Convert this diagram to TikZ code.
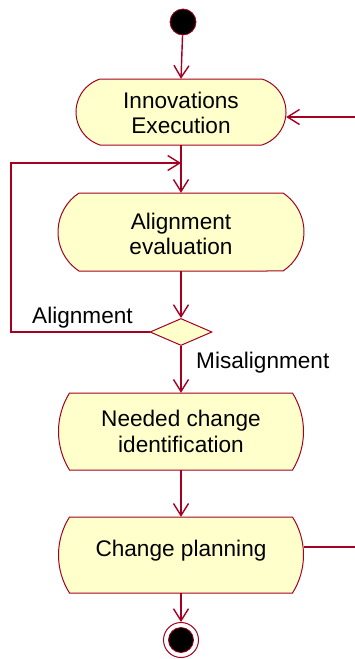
\documentclass[tikz,border=0pt]{standalone}
\usepackage{fontspec}
\setmainfont{Liberation Sans}
\usetikzlibrary{arrows.meta,shapes.geometric}
\definecolor{umlred}{RGB}{165,0,33}
\definecolor{umlfill}{RGB}{255,255,204}
\tikzset{
  actshape/.style={draw=umlred, fill=umlfill, line width=1pt},
  acttext/.style={inner sep=0pt, align=center, font=\fontsize{22.6}{25.5}\selectfont},
  arr/.style={draw=umlred, line width=1.4pt, -{Straight Barb[length=12pt,width=15pt,line width=1.4pt]}},
  plain/.style={draw=umlred, line width=1.4pt},
  lbl/.style={inner sep=0pt, font=\fontsize{22.6}{25.5}\selectfont},
}
% name, xl, yt, xr, yb, inset, text, text y-shift
\newcommand{\actnode}[8]{%
  \pgfmathsetmacro{\myhh}{(#5-#3)/2}%
  \pgfmathsetmacro{\myR}{(\myhh*\myhh+#6*#6)/(2*#6)}%
  \pgfmathsetmacro{\myth}{asin(\myhh/\myR)}%
  \path[actshape] (#2+#6,#3) -- (#4-#6,#3)
    arc[start angle=-\myth, end angle=\myth, radius=\myR]
    -- (#2+#6,#5)
    arc[start angle=180-\myth, end angle=180+\myth, radius=\myR] -- cycle;
  \node[acttext, minimum width={#4-#2}, minimum height={#5-#3}] (#1) at ({(#2+#4)/2},{(#3+#5)/2}) {};
  \node[acttext] (#1-t) at ({(#2+#4)/2},{(#3+#5)/2+#8}) {#7};
}
\begin{document}
\begin{tikzpicture}[x=1pt,y=-1pt]
\useasboundingbox (0,0) rectangle (355,659);
% start
\node[circle, fill=black, draw=umlred, line width=0.8pt, minimum size=26pt, inner sep=0pt] (start) at (183,22) {};
% activities
\actnode{inno}{76}{79}{286}{145}{24}{Innovations\\Execution}{1}
\actnode{align}{58}{193}{304}{271}{21}{Alignment\\evaluation}{2}
\actnode{need}{58.5}{393}{303.5}{470}{11}{Needed change\\identification}{0}
\actnode{plan}{58.5}{517}{303.5}{593}{11}{Change planning}{-4}
% decision
\node[diamond, draw=umlred, fill=umlfill, line width=1pt, inner sep=0pt, minimum width=62pt, minimum height=27pt] (dia) at (181,332) {};
% end
\node[circle, draw=umlred, line width=1pt, minimum size=35pt, inner sep=0pt] (end) at (181,640) {};
\node[circle, fill=black, draw=umlred, line width=0.8pt, minimum size=25pt, inner sep=0pt] (endin) at (181,640) {};
% connectors
\draw[arr] (start) -- (inno.north);
\coordinate (j) at (181,163);
\draw[plain] (inno.south) -- (j);
\draw[arr] (j) -- (align.north);
\draw[arr] (align.south) -- (dia.north);
\draw[arr] (dia.west) -- (11,332) |- (j);
\draw[arr] (dia.south) -- (need.north);
\draw[arr] (need.south) -- (plan.north);
\draw[arr] (plan.south) -- (end.north);
\coordinate (inR) at (355,117);
\draw[arr] (inR) -- (inR -| inno.east);
\coordinate (planR) at (355,547);
\draw[plain] (planR -| plan.east) -- (planR);
% labels
\node[lbl, anchor=base west] (lalign) at (32,323) {Alignment};
\node[lbl, anchor=base west] (lmis) at (196,368) {Misalignment};
\end{tikzpicture}
\end{document}
